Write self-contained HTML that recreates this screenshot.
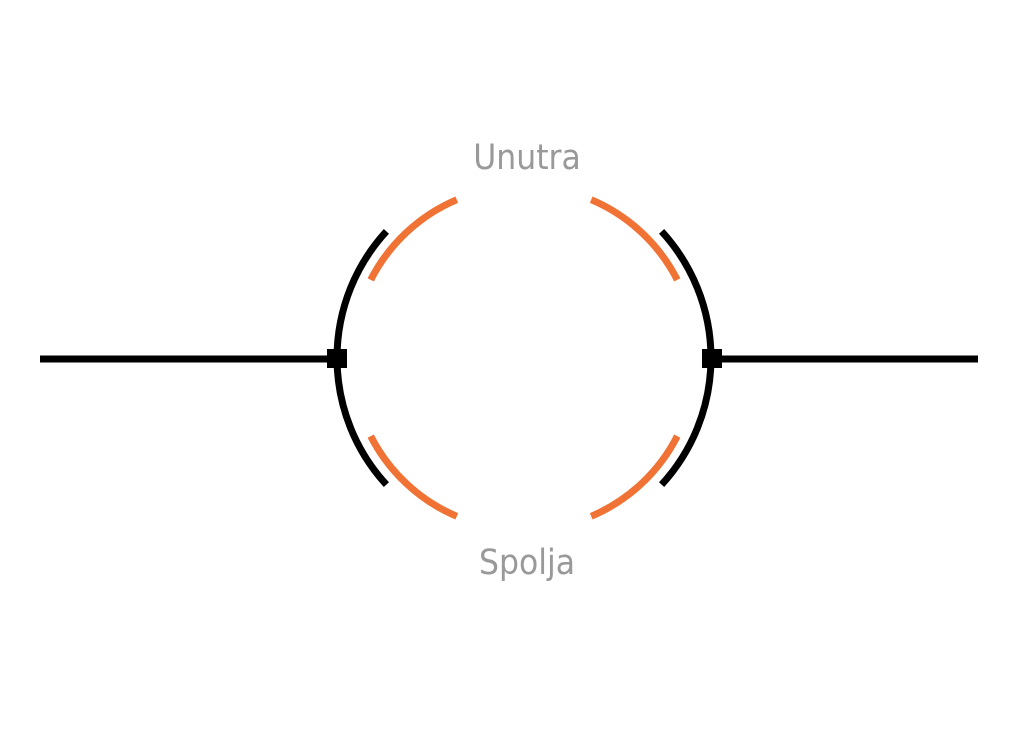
<!DOCTYPE html>
<html><head><meta charset="utf-8"><style>html,body{margin:0;padding:0;background:#fff}svg{display:block}</style></head>
<body>
<svg width="1024" height="738" viewBox="0 0 1024 738" xmlns="http://www.w3.org/2000/svg">
<rect width="1024" height="738" fill="#fff"/>
<g fill="none" stroke="#000" stroke-width="7">
<line x1="40" y1="359" x2="337" y2="359"/>
<line x1="711" y1="359" x2="978" y2="359"/>
<path d="M386.4 231.4 A187 187 0 0 0 386.4 484.6"/>
<path d="M661.6 231.4 A187 187 0 0 1 661.6 484.6"/>
</g>
<rect x="327" y="349" width="20" height="19" fill="#000"/>
<rect x="702" y="349" width="20" height="19" fill="#000"/>
<g fill="none" stroke="#f07335" stroke-width="7">
<path d="M456.8 199.7 A172 172 0 0 0 370.7 279.9"/>
<path d="M591.2 199.7 A172 172 0 0 1 677.3 279.9"/>
<path d="M370.7 436.1 A172 172 0 0 0 456.8 516.3"/>
<path d="M677.3 436.1 A172 172 0 0 1 591.2 516.3"/>
</g>
<g font-family="DejaVu Sans Condensed, Liberation Sans, sans-serif" font-size="35" fill="#999" text-anchor="middle">
<text x="527" y="169">Unutra</text>
<text x="527" y="574">Spolja</text>
</g>
</svg>
</body></html>
